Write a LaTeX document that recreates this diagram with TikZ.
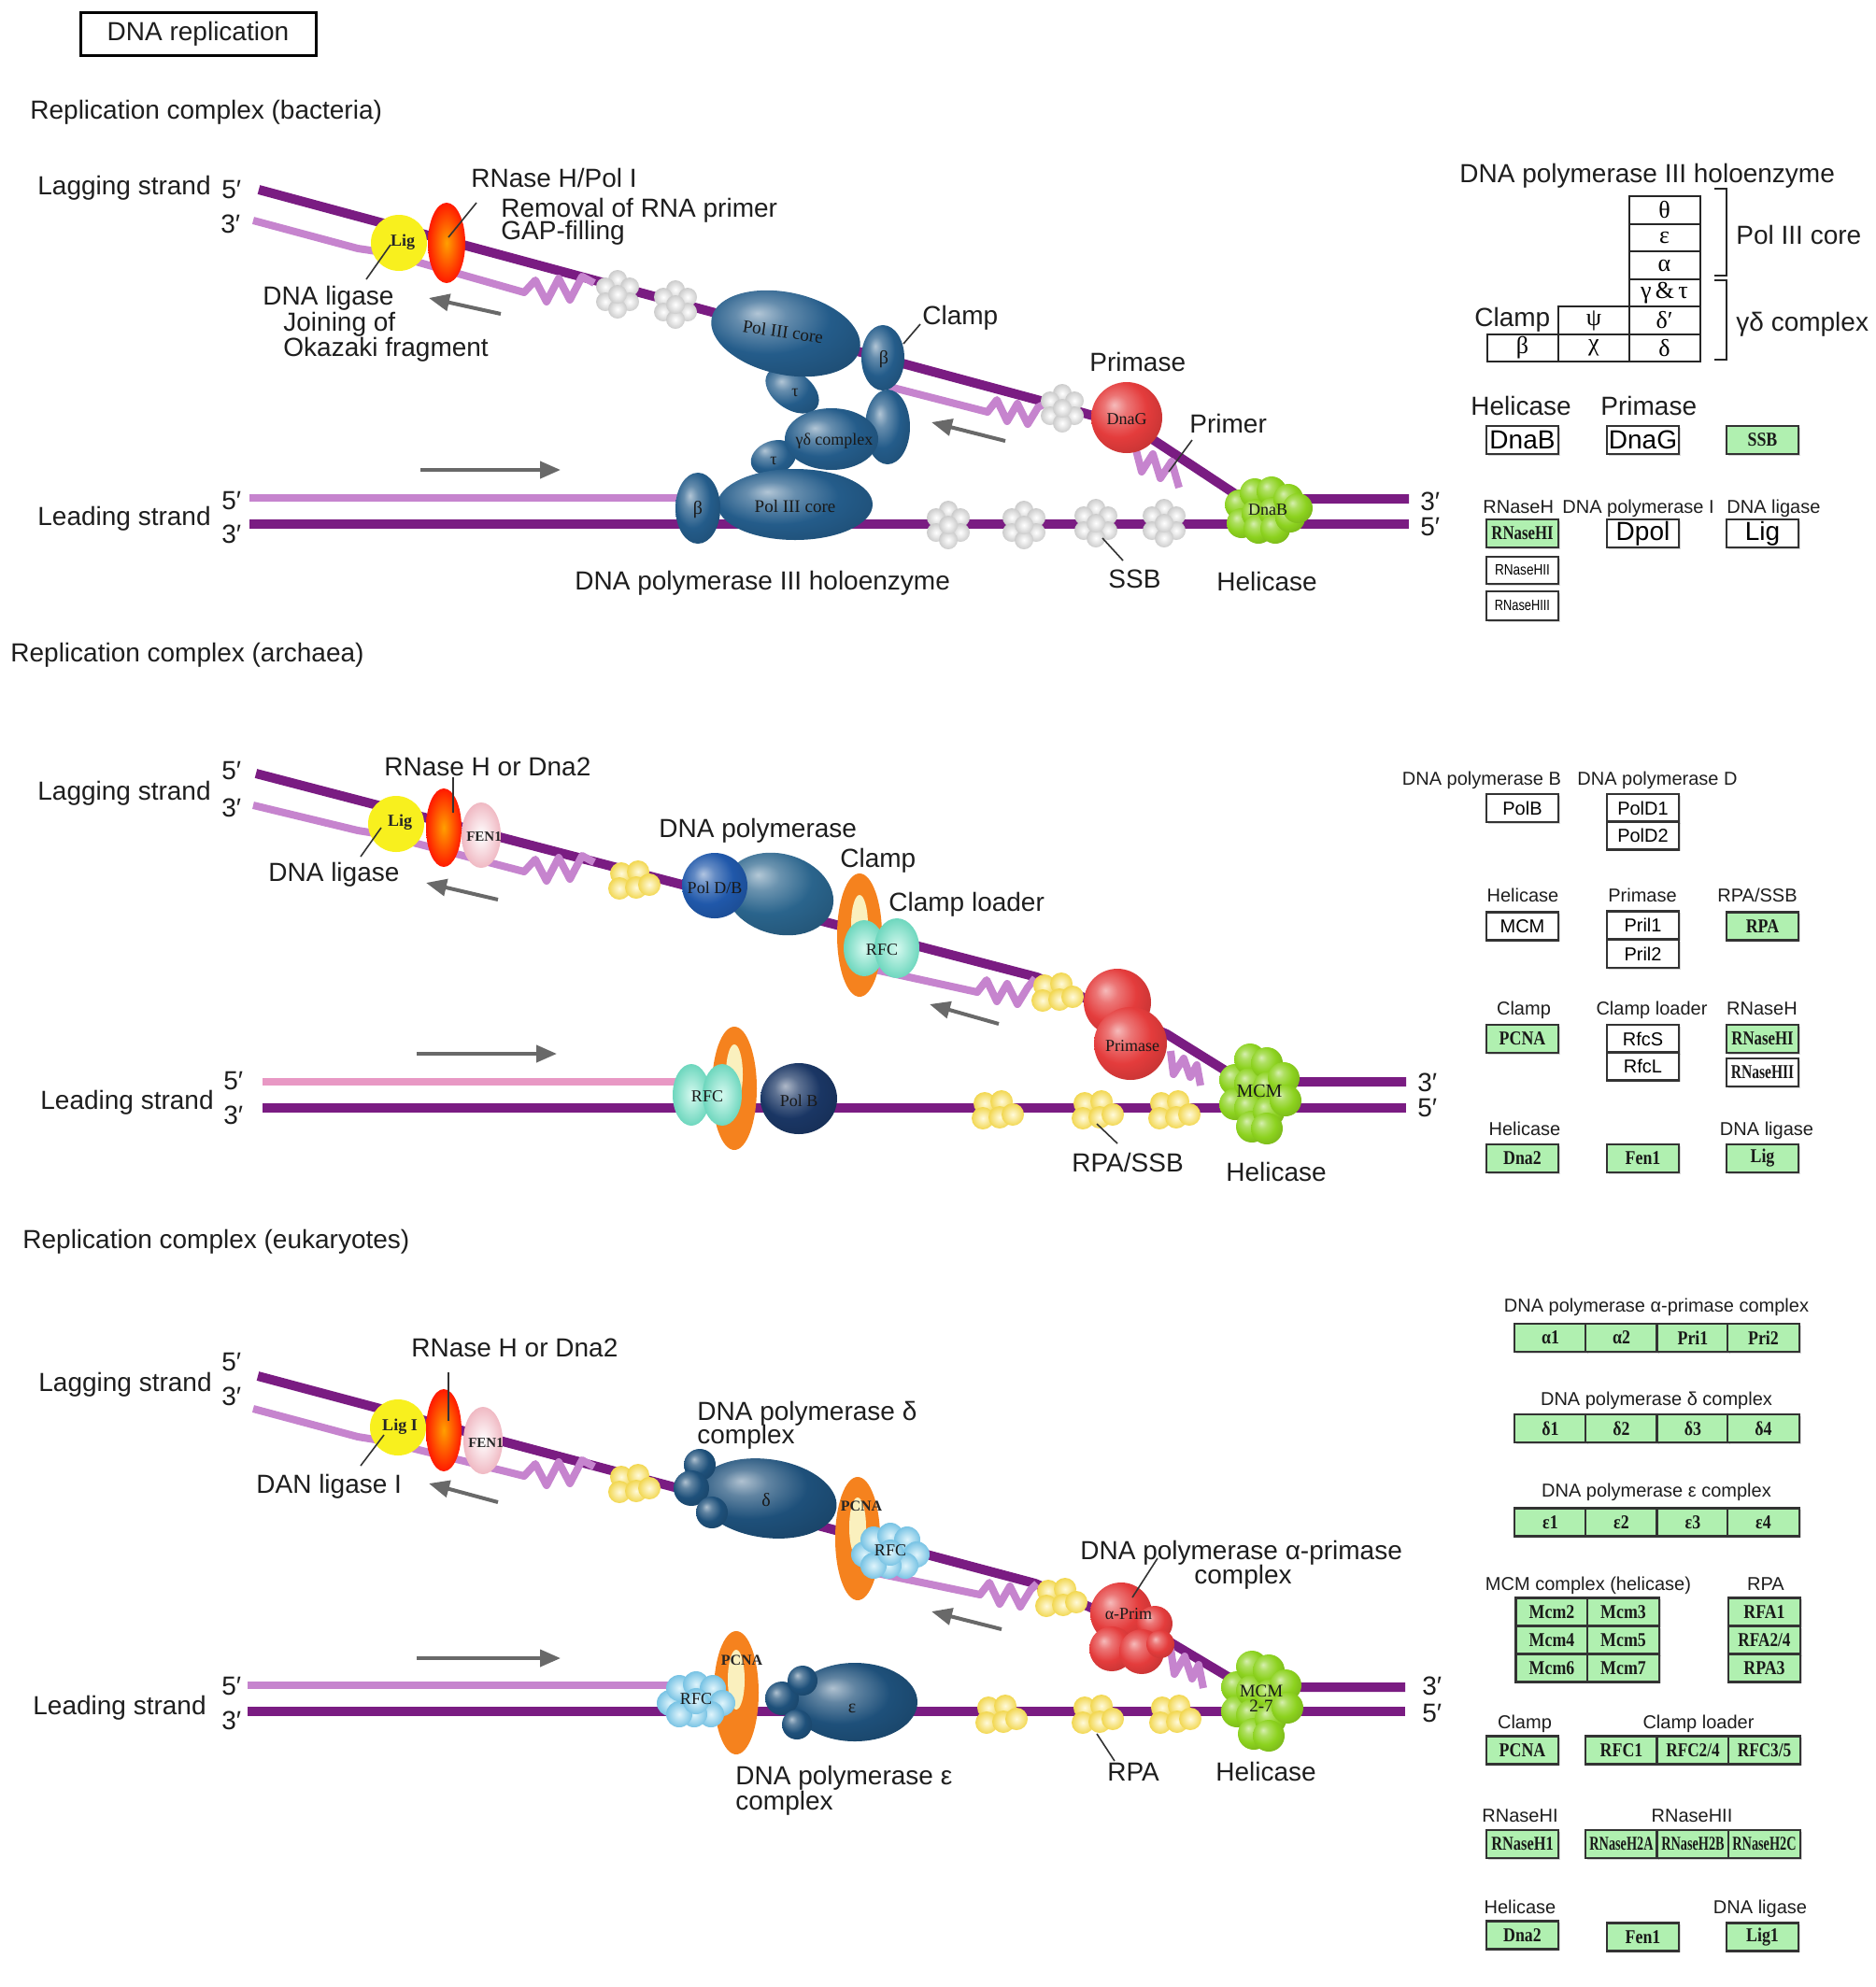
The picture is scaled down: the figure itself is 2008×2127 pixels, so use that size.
\documentclass[tikz,border=0pt]{standalone}
\usepackage{fontspec}
\usepackage{graphicx}
\setmainfont{Liberation Sans}
\newfontfamily\lserif{Liberation Serif}
\usetikzlibrary{shapes.geometric,arrows.meta,shadows,calc}
\definecolor{dstrand}{RGB}{122,28,130}
\definecolor{lstrand}{RGB}{198,132,206}
\definecolor{pstrand}{RGB}{232,152,196}
\definecolor{garrow}{RGB}{105,105,105}
\definecolor{polblue}{RGB}{36,92,138}
\definecolor{poldbf}{RGB}{32,88,170}
\definecolor{poldbb}{RGB}{42,100,140}
\definecolor{polnavy}{RGB}{26,54,100}
\definecolor{eukpol}{RGB}{30,80,122}
\definecolor{kgreen}{RGB}{176,240,176}
\definecolor{hgreen}{RGB}{140,210,30}
\definecolor{pred}{RGB}{228,60,60}
\definecolor{rfcmint}{RGB}{150,240,215}
\definecolor{rfcmintedge}{RGB}{110,215,190}
\definecolor{rfcsky}{RGB}{165,225,245}
\definecolor{rfcskyedge}{RGB}{120,195,228}
\definecolor{clampor}{RGB}{245,130,30}
\definecolor{rpayel}{RGB}{255,240,150}
\definecolor{rpaedge}{RGB}{242,215,80}
\definecolor{ligyel}{RGB}{248,240,30}
\definecolor{holecol}{RGB}{250,240,190}
\definecolor{fenpink}{RGB}{240,185,195}
\definecolor{txt}{RGB}{30,30,30}
\colorlet{sbc}{blue}
\pgfdeclareradialshading[sbc]{softball}{\pgfqpoint{-9bp}{9bp}}{color(0bp)=(sbc!35!white); color(8bp)=(sbc!70!white); color(20bp)=(sbc); color(34bp)=(sbc!85!black); color(48bp)=(sbc!68!black); color(60bp)=(sbc!58!black)}
\newcommand\hs[2]{\scalebox{#1}[1]{#2}}
\newcommand\gt[1]{\hs{0.85}{#1}}
\newcommand\ssbcl[1]{\foreach \ox/\oy in {0/-16,-13/-8,13/-8,-13/8,13/8,0/16,0/0}{\shade[inner color=white,outer color=black!20] ($(#1)+(\ox,\oy)$) circle[radius=10];}}
\newcommand\rpacl[1]{\foreach \ox/\oy in {-13/-7,5/-9,-15/9,3/8,17/5}{\shade[inner color=rpayel!35!white,outer color=rpaedge] ($(#1)+(\ox,\oy)$) circle[radius=12];}}
\newcommand\dnabcl[1]{\foreach \ox/\oy in {-30/-6,-28/14,-14/-18,-12/4,-10/20,4/-20,6/2,8/20,22/-12,24/8,32/-2}{\shade[sball=hgreen] ($(#1)+(\ox,\oy)$) circle[radius=16];}}
\newcommand\mcmcl[1]{\foreach \ox/\oy in {-26/-12,-26/14,-10/-34,-10/-8,-10/18,-8/38,8/-30,10/-4,10/22,8/40,26/-14,28/10}{\shade[sball=hgreen] ($(#1)+(\ox,\oy)$) circle[radius=17];}}
\newcommand\rfccl[1]{\foreach \ox/\oy in {-28/4,-18/-12,0/-16,18/-12,28/4,16/16,-2/16,-18/16,0/2}{\shade[inner color=rfcsky!35!white,outer color=rfcskyedge] ($(#1)+(\ox,\oy)$) circle[radius=14];}}
\tikzset{sball/.style={/utils/exec={\colorlet{sbc}{#1}},shading=softball}}
\begin{document}
\begin{tikzpicture}[x=0.5pt,y=-0.5pt,
 strD/.style={draw=dstrand,line width=5pt,line join=round},
 strL/.style={draw=lstrand,line width=4pt,line join=round},
 strP/.style={draw=pstrand,line width=4pt},
 garr/.style={draw=garrow,line width=2pt,-{Triangle[length=11pt,width=9pt]}},
 leader/.style={draw=black!80,line width=0.8pt},
 lab/.style={font=\fontsize{14pt}{16pt}\selectfont,text=txt,inner sep=0pt,anchor=base west},
 slab/.style={font=\fontsize{10pt}{12pt}\selectfont,text=txt,inner sep=0pt,anchor=base},
 intx/.style={font=\lserif\fontsize{9pt}{10pt}\selectfont,text=black!90,inner sep=0pt},
 intb/.style={font=\lserif\bfseries\fontsize{9pt}{10pt}\selectfont,text=black!85,inner sep=0pt},
 blob/.style={ellipse,inner sep=0pt},
 kb/.style={draw=black!80,line width=1.2pt,minimum width=38.5pt,minimum height=15pt,inner sep=0pt,drop shadow={shadow xshift=0.8pt,shadow yshift=-0.8pt,opacity=0.3}},
 gb/.style={kb,fill=kgreen,text=black!90,font=\lserif\bfseries\fontsize{10.5pt}{11pt}\selectfont},
 wb/.style={kb,fill=white,font=\fontsize{10pt}{11pt}\selectfont},
 wbl/.style={kb,fill=white,font=\fontsize{14pt}{15pt}\selectfont},
 tc/.style={draw=black!85,line width=1pt,minimum width=38pt,minimum height=14.75pt,inner sep=0pt,font=\lserif\fontsize{13pt}{14pt}\selectfont},
 ring/.style={ellipse,fill=clampor,inner sep=0pt,minimum width=24pt,minimum height=66pt},
 hole/.style={ellipse,fill=holecol,inner sep=0pt,minimum width=9pt,minimum height=32pt},
 rnase/.style={blob,inner color=orange!75!yellow,outer color=red!80!orange},
 fen/.style={blob,inner color=white,outer color=fenpink},
 rfcm/.style={blob,inner color=rfcmint!40!white,outer color=rfcmintedge},
]
\fill[white] (0,0) rectangle (2008,2127);
\useasboundingbox (0,0) rectangle (2008,2127);
\node[draw=black,line width=1.5pt,minimum width=126pt,minimum height=23pt,inner sep=0pt,font=\fontsize{14pt}{16pt}\selectfont,text=txt] (title) at (212,36) {DNA replication};

% ================= BACTERIA =================
\node[lab] (secB) at (32,127) {Replication complex (bacteria)};
\draw[strD] (277,203) -- (1125,432) -- (1215,458) -- (1330,534) -- (1508,534);
\draw[strD] (267,561) -- (1508,561);
\draw[strL] (267,533) -- (745,533);
\draw[strL] (271,236) -- (383,266) -- (410,270) -- (561,313) -- (573,300) -- (585,323) -- (598,298) -- (610,321) -- (623,296) -- (636,303);
\draw[strL] (952,414) -- (1057,441) -- (1067,428) -- (1078,451) -- (1089,432) -- (1100,454) -- (1111,436) -- (1119,432);
\draw[strL] (1215,478) -- (1222,505) -- (1234,486) -- (1242,512) -- (1254,494) -- (1262,522);
\ssbcl{661,315}\ssbcl{723,326}\ssbcl{1137,437}
\ssbcl{1015,562}\ssbcl{1096,562}\ssbcl{1173,560}\ssbcl{1246,560}
\node[circle,fill=ligyel,minimum size=30pt,inner sep=0pt] (ligB) at (427,260) {};
\node[rnase,minimum width=20pt,minimum height=43pt] (rnB) at (478,260) {};
\node[blob,sball=polblue,minimum width=24pt,minimum height=40pt] (bkB) at (950,457) {};
\node[blob,sball=polblue,minimum width=32pt,minimum height=20pt,rotate=-35] (tauB1) at (848,418) {};
\node[blob,sball=polblue,minimum width=81pt,minimum height=44pt,rotate=-12] (coreB1) at (841,357) {};
\node[blob,sball=polblue,minimum width=23pt,minimum height=35pt] (betaB1) at (945,383) {};
\node[blob,sball=polblue,minimum width=25pt,minimum height=18pt,rotate=20] (tauB2) at (828,490) {};
\node[blob,sball=polblue,minimum width=50pt,minimum height=33pt] (gdB) at (890,470) {};
\node[blob,sball=polblue,minimum width=83pt,minimum height=38pt] (coreB2) at (851,540) {};
\node[blob,sball=polblue,minimum width=24pt,minimum height=38pt] (betaB2) at (747,544) {};
\node[circle,sball=pred,minimum size=38pt,inner sep=0pt] (dnaG) at (1206,447) {};
\dnabcl{1357,546}
\coordinate (dnaB) at (1357,546);
\node[intb] (tligB) at (431,259) {Lig};
\node[intx,font=\lserif\fontsize{9.5pt}{10pt}\selectfont,rotate=-8] (tcoreB1) at (838,355) {Pol III core};
\node[intx,font=\lserif\fontsize{10pt}{10pt}\selectfont] (tbetaB1) at (946,385) {β};
\node[intx] (ttauB1) at (851,420) {τ};
\node[intx] (tgdB) at (893,472) {γδ complex};
\node[intx] (ttauB2) at (828,493) {τ};
\node[intx,font=\lserif\fontsize{9.5pt}{10pt}\selectfont] (tcoreB2) at (851,542) {Pol III core};
\node[intx,font=\lserif\fontsize{10pt}{10pt}\selectfont] (tbetaB2) at (747,546) {β};
\node[intx] (tdnaG) at (1206,449) {DnaG};
\node[intx] (tdnaB) at (dnaB) {DnaB};
\node[lab] (lagB) at (40,208) {Lagging strand};
\node[lab] (lagB5) at (237,212) {5′};
\node[lab] (lagB3) at (236,249) {3′};
\node[lab] (rnBl1) at (504,200) {RNase H/Pol I};
\node[lab] (rnBl2) at (536,232) {Removal of RNA primer};
\node[lab] (rnBl3) at (536,256) {GAP-filling};
\node[lab] (ligBl1) at (281,326) {DNA ligase};
\node[lab] (ligBl2) at (303,354) {Joining of};
\node[lab] (ligBl3) at (303,381) {Okazaki fragment};
\node[lab] (clampBl) at (987,347) {Clamp};
\node[lab] (primBl) at (1166,397) {Primase};
\node[lab] (primerBl) at (1273,463) {Primer};
\node[lab] (leadB) at (40,562) {Leading strand};
\node[lab] (leadB5) at (237,545) {5′};
\node[lab] (leadB3) at (237,581) {3′};
\node[lab] (holoBl) at (615,631) {DNA polymerase III holoenzyme};
\node[lab] (ssbBl) at (1186,629) {SSB};
\node[lab] (helBl) at (1302,632) {Helicase};
\node[lab] (rB3) at (1520,546) {3′};
\node[lab] (rB5) at (1520,573) {5′};
\coordinate (lrB1) at (510,217); \coordinate (lrB2) at (480,254); \draw[leader] (lrB1) -- (lrB2);
\coordinate (llB1) at (392,299); \coordinate (llB2) at (418,262); \draw[leader] (llB1) -- (llB2);
\coordinate (lcB1) at (985,347); \coordinate (lcB2) at (967,368); \draw[leader] (lcB1) -- (lcB2);
\coordinate (lpB1) at (1276,471); \coordinate (lpB2) at (1251,505); \draw[leader] (lpB1) -- (lpB2);
\coordinate (lsB1) at (1202,600); \coordinate (lsB2) at (1180,576); \draw[leader] (lsB1) -- (lsB2);
\coordinate (aB1s) at (536,336); \coordinate (aB1e) at (459,319); \draw[garr] (aB1s) -- (aB1e);
\coordinate (aB2s) at (450,503); \coordinate (aB2e) at (600,503); \draw[garr] (aB2s) -- (aB2e);
\coordinate (aB3s) at (1076,472); \coordinate (aB3e) at (997,452); \draw[garr] (aB3s) -- (aB3e);

% bacteria table
\node[lab] (holoH) at (1562,195) {DNA polymerase III holoenzyme};
\node[tc] (c31) at (1781.5,225) {θ};
\node[tc] (c32) at (1781.5,254.5) {ε};
\node[tc] (c33) at (1781.5,284) {α};
\node[tc] (c34) at (1781.5,313.5) {γ\,\&\,τ};
\node[tc] (c35) at (1781.5,343) {δ′};
\node[tc] (c36) at (1781.5,372.5) {δ};
\node[tc] (c25) at (1706,343) {ψ};
\node[tc] (c26) at (1706,372.5) {χ};
\node[tc] (c16) at (1629.5,372.5) {β};
\node[lab] (clampT) at (1578,349) {Clamp};
\draw[line width=1pt,black!85] (1835,202) -- (1848,202) -- (1848,295) -- (1835,295);
\draw[line width=1pt,black!85] (1835,300) -- (1848,300) -- (1848,385) -- (1835,385);
\node[lab] (coreT) at (1858,261) {Pol III core};
\node[lab] (gdT) at (1858,354) {γδ complex};
\node[lab] (helT) at (1574,444) {Helicase};
\node[lab] (priT) at (1713,444) {Primase};
\node[wbl] (bDnaB) at (1629.5,471) {DnaB};
\node[wbl] (bDnaG) at (1758.5,471) {DnaG};
\node[gb] (bSSB) at (1886.5,471) {\gt{SSB}};
\node[slab,anchor=base west] (rnhT) at (1587,549) {RNaseH};
\node[slab,anchor=base west] (dpolT) at (1672,549) {DNA polymerase I};
\node[slab,anchor=base west] (ligT) at (1848,549) {DNA ligase};
\node[gb] (bRH1B) at (1629.5,571) {\hs{0.8}{RNaseHI}};
\node[wbl] (bDpol) at (1758.5,571) {Dpol};
\node[wbl] (bLigB) at (1886.5,571) {Lig};
\node[kb,fill=white,minimum height=14.5pt,font=\fontsize{8pt}{9pt}\selectfont] (bRH2B) at (1629.5,610.5) {\hs{0.85}{RNaseHII}};
\node[kb,fill=white,minimum height=15.5pt,font=\fontsize{8pt}{9pt}\selectfont] (bRH3B) at (1629.5,648.5) {\hs{0.8}{RNaseHIII}};

% ================= ARCHAEA =================
\node[lab] (secA) at (11,708) {Replication complex (archaea)};
\draw[strD] (274,828) -- (1110,1046) -- (1249,1107) -- (1318,1150) -- (1332,1158) -- (1505,1158);
\draw[strD] (281,1186) -- (1505,1186);
\draw[strP] (281,1158) -- (745,1158);
\draw[strL] (271,862) -- (383,889) -- (408,893) -- (561,933) -- (573,920) -- (585,943) -- (598,918) -- (610,941) -- (623,916) -- (636,923);
\draw[strL] (900,1030) -- (1046,1062) -- (1056,1049) -- (1067,1072) -- (1078,1053) -- (1089,1075) -- (1100,1057) -- (1108,1047);
\draw[strL] (1253,1125) -- (1256,1150) -- (1267,1133) -- (1274,1153) -- (1281,1140) -- (1285,1162);
\node[circle,fill=ligyel,minimum size=30pt,inner sep=0pt] (ligA) at (424,882) {};
\node[fen,minimum width=21pt,minimum height=35pt] (fenA) at (515,894) {};
\node[rnase,minimum width=19pt,minimum height=42pt] (rnA) at (475,886) {};
\rpacl{678,942}
\node[blob,sball=poldbb,minimum width=59pt,minimum height=43pt,rotate=-15] (polAb) at (834,957) {};
\node[circle,sball=poldbf,minimum size=35pt,inner sep=0pt] (polAf) at (765,948) {};
\node[ring] (ringA1) at (920,1001) {};
\node[hole] (holeA1) at (920,990) {};
\node[rfcm,minimum width=22pt,minimum height=30pt] (rfcA1a) at (925,1015) {};
\node[rfcm,minimum width=24pt,minimum height=32pt] (rfcA1b) at (960,1015) {};
\rpacl{1131,1062}
\node[circle,sball=pred,minimum size=36pt,inner sep=0pt] (primA1) at (1196,1073) {};
\node[circle,sball=pred,minimum size=39pt,inner sep=0pt] (primA2) at (1210,1117) {};
\mcmcl{1348,1168}
\coordinate (mcmA) at (1348,1168);
\node[ring] (ringA2) at (786,1165) {};
\node[hole] (holeA2) at (786,1150) {};
\node[rfcm,minimum width=20pt,minimum height=33pt] (rfcA2a) at (740,1172) {};
\node[rfcm,minimum width=21pt,minimum height=33pt] (rfcA2b) at (773,1172) {};
\node[blob,sball=polnavy,minimum width=41pt,minimum height=38pt] (polBA) at (855,1176) {};
\rpacl{1067,1188}\rpacl{1174,1188}\rpacl{1256,1188}
\node[intb] (tligA) at (428,880) {Lig};
\node[intb,font=\lserif\bfseries\fontsize{7.5pt}{8pt}\selectfont] (tfenA) at (518,896) {FEN1};
\node[intx] (tpolA) at (765,950) {Pol D/B};
\node[intx] (trfcA1) at (944,1017) {RFC};
\node[intx] (tprimA) at (1212,1120) {Primase};
\node[intx,font=\lserif\fontsize{10pt}{10pt}\selectfont] (tmcmA) at (mcmA) {MCM};
\node[intx] (trfcA2) at (757,1174) {RFC};
\node[intx] (tpolBA) at (855,1178) {Pol B};
\node[lab] (lagA5) at (237,834) {5′};
\node[lab] (lagA) at (40,856) {Lagging strand};
\node[lab] (lagA3) at (237,874) {3′};
\node[lab] (rnAl) at (411,830) {RNase H or Dna2};
\node[lab] (ligAl) at (287,943) {DNA ligase};
\node[lab] (polAl) at (705,896) {DNA polymerase};
\node[lab] (clampAl) at (899,928) {Clamp};
\node[lab] (loadAl) at (951,975) {Clamp loader};
\node[lab] (leadA5) at (239,1166) {5′};
\node[lab] (leadA) at (43,1187) {Leading strand};
\node[lab] (leadA3) at (239,1203) {3′};
\node[lab] (rpaAl) at (1147,1254) {RPA/SSB};
\node[lab] (helAl) at (1312,1264) {Helicase};
\node[lab] (rA3) at (1517,1168) {3′};
\node[lab] (rA5) at (1517,1195) {5′};
\coordinate (lrA1) at (485,832); \coordinate (lrA2) at (485,870); \draw[leader] (lrA1) -- (lrA2);
\coordinate (llA1) at (386,917); \coordinate (llA2) at (408,886); \draw[leader] (llA1) -- (llA2);
\coordinate (lsA1) at (1196,1224); \coordinate (lsA2) at (1174,1203); \draw[leader] (lsA1) -- (lsA2);
\coordinate (aA1s) at (533,963); \coordinate (aA1e) at (456,945); \draw[garr] (aA1s) -- (aA1e);
\coordinate (aA2s) at (446,1128); \coordinate (aA2e) at (596,1128); \draw[garr] (aA2s) -- (aA2e);
\coordinate (aA3s) at (1069,1096); \coordinate (aA3e) at (995,1075); \draw[garr] (aA3s) -- (aA3e);

% archaea table
\node[slab] (hA1) at (1586,840) {DNA polymerase B};
\node[slab] (hA2) at (1774,840) {DNA polymerase D};
\node[wb] (bPolB) at (1629.5,865) {PolB};
\node[wb] (bPolD1) at (1758.5,865) {PolD1};
\node[wb] (bPolD2) at (1758.5,894.5) {PolD2};
\node[slab] (hA3) at (1630,965) {Helicase};
\node[slab] (hA4) at (1758,965) {Primase};
\node[slab] (hA5) at (1881,965) {RPA/SSB};
\node[wb] (bMCM) at (1629.5,991.5) {MCM};
\node[wb] (bPri1) at (1758.5,990.5) {Pril1};
\node[wb] (bPri2) at (1758.5,1021) {Pril2};
\node[gb] (bRPA) at (1886.5,991.5) {\gt{RPA}};
\node[slab] (hA6) at (1631,1086) {Clamp};
\node[slab] (hA7) at (1768,1086) {Clamp loader};
\node[slab] (hA8) at (1886,1086) {RNaseH};
\node[gb] (bPCNA) at (1629.5,1112) {\gt{PCNA}};
\node[wb] (bRfcS) at (1758.5,1112) {RfcS};
\node[wb] (bRfcL) at (1758.5,1141.5) {RfcL};
\node[gb] (bRH1A) at (1886.5,1112) {\hs{0.8}{RNaseHI}};
\node[kb,fill=white,text=black!90,font=\lserif\bfseries\fontsize{10.5pt}{11pt}\selectfont] (bRH2A) at (1886.5,1148) {\hs{0.74}{RNaseHII}};
\node[slab] (hA9) at (1632,1215) {Helicase};
\node[slab] (hA10) at (1891,1215) {DNA ligase};
\node[gb] (bDna2A) at (1629.5,1240) {\gt{Dna2}};
\node[gb] (bFen1A) at (1758.5,1240) {\gt{Fen1}};
\node[gb] (bLigA) at (1886.5,1240) {\gt{Lig}};

% ================= EUKARYOTES =================
\node[lab] (secE) at (24,1336) {Replication complex (eukaryotes)};
\draw[strD] (276,1473) -- (1108,1695) -- (1251,1757) -- (1318,1797) -- (1332,1806) -- (1504,1806);
\draw[strD] (265,1832) -- (1504,1832);
\draw[strL] (265,1804) -- (745,1804);
\draw[strL] (271,1508) -- (383,1538) -- (408,1542) -- (561,1580) -- (573,1567) -- (585,1590) -- (598,1565) -- (610,1588) -- (623,1563) -- (636,1570);
\draw[strL] (900,1676) -- (1049,1707) -- (1059,1694) -- (1070,1717) -- (1081,1698) -- (1092,1720) -- (1103,1702) -- (1110,1695);
\draw[strL] (1253,1765) -- (1257,1792) -- (1268,1773) -- (1276,1797) -- (1283,1782) -- (1288,1807);
\node[circle,fill=ligyel,minimum size=30pt,inner sep=0pt] (ligE) at (426,1528) {};
\node[fen,minimum width=21pt,minimum height=36pt] (fenE) at (517,1542) {};
\node[rnase,minimum width=19pt,minimum height=44pt] (rnE) at (475,1531) {};
\rpacl{678,1588}
\node[blob,sball=eukpol,minimum width=75pt,minimum height=42pt,rotate=-8] (deltaE) at (821,1604) {};
\node[circle,sball=eukpol,minimum size=17pt,inner sep=0pt] (dlobe1) at (749,1568) {};
\node[circle,sball=eukpol,minimum size=19pt,inner sep=0pt] (dlobe2) at (740,1593) {};
\node[circle,sball=eukpol,minimum size=17pt,inner sep=0pt] (dlobe3) at (762,1619) {};
\node[ring] (ringE1) at (918,1647) {};
\node[hole] (holeE1) at (918,1635) {};
\rfccl{953,1660}
\coordinate (rfcE1) at (953,1660);
\rpacl{1135,1710}
\node[circle,sball=pred,minimum size=33pt,inner sep=0pt] (apE1) at (1200,1727) {};
\node[circle,sball=pred,minimum size=19pt,inner sep=0pt] (apE2) at (1236,1738) {};
\node[circle,sball=pred,minimum size=24pt,inner sep=0pt] (apE3) at (1190,1765) {};
\node[circle,sball=pred,minimum size=24pt,inner sep=0pt] (apE4) at (1222,1768) {};
\node[circle,sball=pred,minimum size=15pt,inner sep=0pt] (apE5) at (1242,1760) {};
\mcmcl{1350,1818}
\coordinate (mcmE) at (1350,1818);
\node[ring] (ringE2) at (788,1812) {};
\node[hole] (holeE2) at (788,1798) {};
\rfccl{745,1819}
\coordinate (rfcE2) at (745,1819);
\node[blob,sball=eukpol,minimum width=67pt,minimum height=42pt] (epsE) at (915,1822) {};
\node[circle,sball=eukpol,minimum size=18pt,inner sep=0pt] (elobe1) at (837,1818) {};
\node[circle,sball=eukpol,minimum size=16pt,inner sep=0pt] (elobe2) at (853,1846) {};
\node[circle,sball=eukpol,minimum size=16pt,inner sep=0pt] (elobe3) at (859,1799) {};
\rpacl{1071,1835}\rpacl{1174,1835}\rpacl{1257,1835}
\node[intb] (tligE) at (428,1527) {Lig I};
\node[intb,font=\lserif\bfseries\fontsize{7.5pt}{8pt}\selectfont] (tfenE) at (520,1545) {FEN1};
\node[intx,font=\lserif\fontsize{10pt}{10pt}\selectfont] (tdeltaE) at (820,1606) {δ};
\node[intb,font=\lserif\bfseries\fontsize{8pt}{8pt}\selectfont] (tpcnaE1) at (922,1612) {PCNA};
\node[intx] (trfcE1) at (rfcE1) {RFC};
\node[intx] (tapE) at (1208,1728) {α-Prim};
\node[intx,font=\lserif\fontsize{9.5pt}{10pt}\selectfont,align=center] (tmcmE) at (mcmE) {MCM\\[-2pt]2-7};
\node[intb,font=\lserif\bfseries\fontsize{8pt}{8pt}\selectfont] (tpcnaE2) at (794,1777) {PCNA};
\node[intx] (trfcE2) at (rfcE2) {RFC};
\node[intx,font=\lserif\fontsize{10pt}{10pt}\selectfont] (tepsE) at (912,1829) {ε};
\node[lab] (lagE5) at (237,1467) {5′};
\node[lab] (lagE) at (41,1489) {Lagging strand};
\node[lab] (lagE3) at (237,1504) {3′};
\node[lab] (rnEl) at (440,1452) {RNase H or Dna2};
\node[lab] (ligEl) at (274,1598) {DAN ligase I};
\node[lab] (delEl1) at (746,1520) {DNA polymerase δ};
\node[lab] (delEl2) at (746,1545) {complex};
\node[lab] (apEl1) at (1156,1669) {DNA polymerase α-primase};
\node[lab] (apEl2) at (1278,1695) {complex};
\node[lab] (rE3) at (1522,1814) {3′};
\node[lab] (rE5) at (1522,1843) {5′};
\node[lab] (leadE5) at (237,1814) {5′};
\node[lab] (leadE) at (35,1835) {Leading strand};
\node[lab] (leadE3) at (237,1851) {3′};
\node[lab] (epsEl1) at (787,1910) {DNA polymerase ε};
\node[lab] (epsEl2) at (787,1937) {complex};
\node[lab] (rpaEl) at (1185,1906) {RPA};
\node[lab] (helEl) at (1301,1906) {Helicase};
\coordinate (lrE1) at (480,1469); \coordinate (lrE2) at (480,1521); \draw[leader] (lrE1) -- (lrE2);
\coordinate (llE1) at (386,1569); \coordinate (llE2) at (411,1536); \draw[leader] (llE1) -- (llE2);
\coordinate (laE1) at (1239,1668); \coordinate (laE2) at (1212,1710); \draw[leader] (laE1) -- (laE2);
\coordinate (lsE1) at (1193,1885); \coordinate (lsE2) at (1174,1856); \draw[leader] (lsE1) -- (lsE2);
\coordinate (aE1s) at (533,1608); \coordinate (aE1e) at (459,1588); \draw[garr] (aE1s) -- (aE1e);
\coordinate (aE2s) at (446,1775); \coordinate (aE2e) at (600,1775); \draw[garr] (aE2s) -- (aE2e);
\coordinate (aE3s) at (1072,1744); \coordinate (aE3e) at (997,1725); \draw[garr] (aE3s) -- (aE3e);

% eukaryote table
\node[slab] (hE1) at (1773,1404) {DNA polymerase α-primase complex};
\node[gb] (bA1) at (1659.5,1432) {\gt{α1}};
\node[gb] (bA2) at (1735.5,1432) {\gt{α2}};
\node[gb] (bP1) at (1812,1432) {\gt{Pri1}};
\node[gb] (bP2) at (1887.5,1432) {\gt{Pri2}};
\node[slab] (hE2) at (1773,1504) {DNA polymerase δ complex};
\node[gb] (bD1) at (1659.5,1529) {\gt{δ1}};
\node[gb] (bD2) at (1735.5,1529) {\gt{δ2}};
\node[gb] (bD3) at (1812,1529) {\gt{δ3}};
\node[gb] (bD4) at (1887.5,1529) {\gt{δ4}};
\node[slab] (hE3) at (1773,1602) {DNA polymerase ε complex};
\node[gb] (bE1) at (1659.5,1629.5) {\gt{ε1}};
\node[gb] (bE2) at (1735.5,1629.5) {\gt{ε2}};
\node[gb] (bE3) at (1812,1629.5) {\gt{ε3}};
\node[gb] (bE4) at (1887.5,1629.5) {\gt{ε4}};
\node[slab] (hE4) at (1700,1702) {MCM complex (helicase)};
\node[slab] (hE5) at (1890,1702) {RPA};
\node[gb] (bM2) at (1661,1725.5) {\gt{Mcm2}};
\node[gb] (bM3) at (1737.5,1725.5) {\gt{Mcm3}};
\node[gb] (bM4) at (1661,1756) {\gt{Mcm4}};
\node[gb] (bM5) at (1737.5,1756) {\gt{Mcm5}};
\node[gb] (bM6) at (1661,1785.5) {\gt{Mcm6}};
\node[gb] (bM7) at (1737.5,1785.5) {\gt{Mcm7}};
\node[gb] (bR1) at (1888.5,1725.5) {\gt{RFA1}};
\node[gb] (bR2) at (1888.5,1756) {\hs{0.82}{RFA2/4}};
\node[gb] (bR3) at (1888.5,1785.5) {\gt{RPA3}};
\node[slab] (hE6) at (1632,1850) {Clamp};
\node[slab] (hE7) at (1818,1850) {Clamp loader};
\node[gb] (bPCNAE) at (1629.5,1873.5) {\gt{PCNA}};
\node[gb] (bRFC1) at (1735.5,1873.5) {\gt{RFC1}};
\node[gb] (bRFC2) at (1812,1873.5) {\hs{0.82}{RFC2/4}};
\node[gb] (bRFC3) at (1888.5,1873.5) {\hs{0.82}{RFC3/5}};
\node[slab] (hE8) at (1627,1950) {RNaseHI};
\node[slab] (hE9) at (1811,1950) {RNaseHII};
\node[gb] (bH1) at (1629.5,1974) {\hs{0.78}{RNaseH1}};
\node[gb] (bH2A) at (1735.5,1974) {\hs{0.68}{RNaseH2A}};
\node[gb] (bH2B) at (1812,1974) {\hs{0.68}{RNaseH2B}};
\node[gb] (bH2C) at (1888.5,1974) {\hs{0.68}{RNaseH2C}};
\node[slab] (hE10) at (1627,2048) {Helicase};
\node[slab] (hE11) at (1884,2048) {DNA ligase};
\node[gb] (bDna2E) at (1629.5,2071.5) {\gt{Dna2}};
\node[gb] (bFen1E) at (1758.5,2073.5) {\gt{Fen1}};
\node[gb] (bLig1E) at (1886.5,2073.5) {\gt{Lig1}};
\end{tikzpicture}
\end{document}
